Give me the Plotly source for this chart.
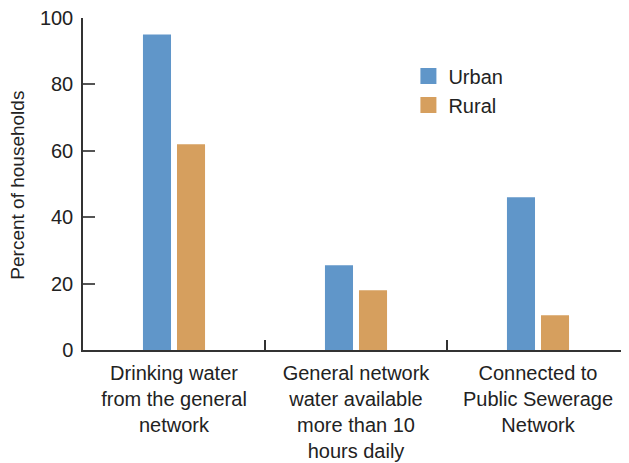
import plotly.graph_objects as go

categories = [
    "Drinking water<br>from the general<br>network",
    "General network<br>water available<br>more than 10<br>hours daily",
    "Connected to<br>Public Sewerage<br>Network",
]
urban = [95, 25.5, 46]
rural = [62, 18, 10.5]
y_ticks = [0, 20, 40, 60, 80, 100]

FONT = "Liberation Sans, Arial, sans-serif"
BLUE = "#6096C9"
ORANGE = "#D69F5E"

fig = go.Figure()
fig.add_trace(go.Bar(name="Urban", x=categories, y=urban, marker_color=BLUE,
                     marker_line_width=0, showlegend=False))
fig.add_trace(go.Bar(name="Rural", x=categories, y=rural, marker_color=ORANGE,
                     marker_line_width=0, showlegend=False))
# legend proxies (larger square swatches)
fig.add_trace(go.Scatter(name="Urban", x=[None], y=[None], mode="markers",
                         marker=dict(symbol="square", size=16, color=BLUE, line_width=0)))
fig.add_trace(go.Scatter(name="Rural", x=[None], y=[None], mode="markers",
                         marker=dict(symbol="square", size=16, color=ORANGE, line_width=0)))

# page body has an 8px default margin, so the figure sits at (8, 8)
fig.update_layout(
    width=621, height=455,
    margin=dict(l=75, r=0, t=10, b=113),
    paper_bgcolor="white", plot_bgcolor="white",
    barmode="group", bargap=0.626, bargroupgap=0.176,
    font=dict(family=FONT, size=20, color="#222"),
    legend=dict(x=0.596, y=0.884, xanchor="left", yanchor="top",
                bgcolor="rgba(0,0,0,0)", font=dict(size=20, color="#222")),
    showlegend=True,
    annotations=[dict(
        text="Percent of households", textangle=-90, showarrow=False,
        xref="paper", yref="paper", x=-65 / 546, y=0.495,
        xanchor="center", yanchor="middle", font=dict(size=19, color="#222"),
    )],
)
fig.update_yaxes(
    range=[0, 100], tickvals=y_ticks, ticks="inside", ticklen=12, tickwidth=1.5,
    tickcolor="#555", showline=True, linecolor="#333", linewidth=1.5,
    showgrid=False, zeroline=False, automargin=False, ticklabeloverflow="allow",
    ticklabelstandoff=4, tickfont=dict(size=20, color="#222"),
)
fig.update_xaxes(
    showline=True, linecolor="#333", linewidth=1.5, ticks="inside", ticklen=10,
    tickwidth=1.5, tickcolor="#333", tickson="boundaries", showgrid=False,
    automargin=False, ticklabelstandoff=4, tickfont=dict(size=20, color="#222"),
)

fig.write_html("out.html")
